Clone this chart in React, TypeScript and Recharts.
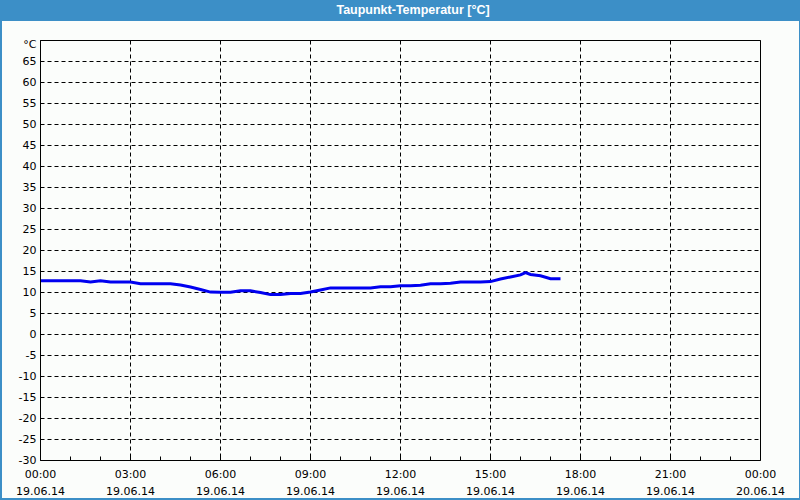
import React from "react";
import { LineChart, Line, XAxis, YAxis, CartesianGrid, ReferenceLine } from "recharts";

// time in minutes after 19.06.14 00:00
const minutes = [
  0, 20, 40, 60, 80, 100, 120, 140, 160, 180, 200, 220, 240, 260, 280, 300, 320, 340, 360, 380,
  400, 420, 440, 460, 480, 500, 520, 540, 560, 580, 600, 620, 640, 660, 680, 700, 720, 740, 760,
  780, 800, 820, 840, 860, 880, 900, 920, 940, 960, 970, 980, 1000, 1020, 1040,
];
const dewPoint = [
  12.8, 12.8, 12.8, 12.8, 12.8, 12.5, 12.8, 12.5, 12.5, 12.5, 12.1, 12.1, 12.1, 12.1, 11.8, 11.3,
  10.7, 10.1, 10.05, 10.05, 10.4, 10.4, 10.0, 9.5, 9.5, 9.75, 9.75, 10.1, 10.6, 11.1, 11.1, 11.1,
  11.1, 11.1, 11.35, 11.35, 11.6, 11.6, 11.75, 12.1, 12.1, 12.2, 12.5, 12.5, 12.5, 12.6, 13.2,
  13.7, 14.2, 14.75, 14.3, 14.0, 13.3, 13.3,
];

const hourTicks = [0, 60, 120, 180, 240, 300, 360, 420, 480, 540, 600, 660, 720, 780, 840, 900, 960, 1020, 1080, 1140, 1200, 1260, 1320, 1380, 1440];
const majorTicks = [0, 180, 360, 540, 720, 900, 1080, 1260, 1440];
const timeLabels = ["00:00", "03:00", "06:00", "09:00", "12:00", "15:00", "18:00", "21:00", "00:00"];
const dateLabels = ["19.06.14", "19.06.14", "19.06.14", "19.06.14", "19.06.14", "19.06.14", "19.06.14", "19.06.14", "20.06.14"];
const yTicks = [-30, -25, -20, -15, -10, -5, 0, 5, 10, 15, 20, 25, 30, 35, 40, 45, 50, 55, 60, 65, 70];
const unitLabel = "°C";

const title = "Taupunkt-Temperatur [°C]";
const font = "'DejaVu Sans', Verdana, sans-serif";

const data = minutes.map((m, i) => ({ t: m, v: dewPoint[i] }));

const XTick = (props: any) => {
  const { x, y, payload } = props;
  const idx = majorTicks.indexOf(payload.value);
  return (
    <g>
      <line x1={x} x2={x} y1={y} y2={y - 4} stroke="#000" strokeWidth={1} />
      {idx >= 0 && (
        <g fontFamily={font} fontSize={11} fill="#000">
          <text x={x} y={y + 17} textAnchor="middle">{timeLabels[idx]}</text>
          <text x={x} y={y + 34} textAnchor="middle">{dateLabels[idx]}</text>
        </g>
      )}
    </g>
  );
};

const YTick = (props: any) => {
  const { x, y, payload } = props;
  const isUnit = payload.value === yTicks[yTicks.length - 1];
  return (
    <text
      x={x}
      y={y + (isUnit ? 4 : 0)}
      dy="0.355em"
      textAnchor="end"
      fontFamily={font}
      fontSize={11}
      fill="#000"
    >
      {isUnit ? unitLabel : String(payload.value)}
    </text>
  );
};

export default function App() {
  return (
    <div
      style={{
        position: "absolute",
        left: 0,
        top: 0,
        width: 800,
        height: 500,
        background: "#fbfdfb",
        boxSizing: "border-box",
        borderLeft: "2px solid #3c8fc7",
        borderRight: "1px solid #3c8fc7",
        borderBottom: "2px solid #3c8fc7",
        overflow: "hidden",
      }}
    >
      <div
        style={{
          position: "absolute",
          left: -2,
          top: 0,
          width: 800,
          height: 21,
          background: "#3c8fc7",
        }}
      >
        <span
          style={{
            position: "absolute",
            left: 413,
            top: 3,
            transform: "translateX(-50%)",
            color: "#fff",
            fontFamily: "'Liberation Sans', Arial, sans-serif",
            fontWeight: "bold",
            fontSize: 12.5,
            whiteSpace: "nowrap",
            lineHeight: "14px",
          }}
        >
          {title}
        </span>
      </div>
      <div style={{ position: "absolute", left: -2, top: 0 }}>
        <LineChart width={800} height={500} data={data} margin={{ top: 40.5, right: 39.5, bottom: 0, left: 0.5 }}>
          <CartesianGrid
            stroke="#000"
            strokeDasharray="4 3"
            verticalValues={majorTicks}
            horizontalValues={yTicks}
          />
          <XAxis
            dataKey="t"
            type="number"
            domain={[0, 1440]}
            ticks={hourTicks}
            interval={0}
            height={39.5}
            tickSize={0}
            tickMargin={0}
            tickLine={false}
            axisLine={{ stroke: "#000", strokeWidth: 1 }}
            tick={<XTick />}
          />
          <YAxis
            type="number"
            domain={[-30, 70]}
            ticks={yTicks}
            interval={0}
            width={40}
            tickSize={0}
            tickMargin={4}
            tickLine={false}
            axisLine={{ stroke: "#000", strokeWidth: 1 }}
            tick={<YTick />}
          />
          <ReferenceLine y={70} stroke="#000" strokeWidth={1} />
          <ReferenceLine x={1440} stroke="#000" strokeWidth={1} />
          <Line
            type="linear"
            dataKey="v"
            stroke="#0000f0"
            strokeWidth={3}
            dot={false}
            isAnimationActive={false}
          />
        </LineChart>
      </div>
    </div>
  );
}
